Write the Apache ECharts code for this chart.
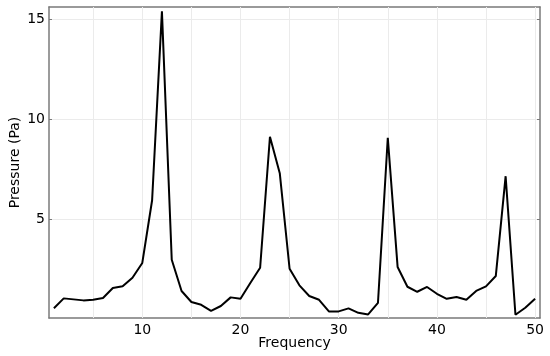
<!DOCTYPE html>
<html>
<head>
<meta charset="utf-8">
<script src="https://cdn.jsdelivr.net/npm/echarts@6/dist/echarts.min.js"></script>
<style>html,body{margin:0;padding:0;background:#fff}#c{width:550px;height:356px}</style>
</head>
<body>
<div id="c"></div>
<script>
var frequency = [1,2,3,4,5,6,7,8,9,10,11,12,13,14,15,16,17,18,19,20,21,22,23,24,25,26,27,28,29,30,31,32,33,34,35,36,37,38,39,40,41,42,43,44,45,46,47,48,49,50];
var pressure = [0.56,1.05,1.0,0.95,0.98,1.07,1.57,1.65,2.08,2.82,5.95,15.38,2.98,1.42,0.87,0.73,0.43,0.67,1.1,1.03,1.82,2.58,9.12,7.3,2.53,1.7,1.17,0.98,0.4,0.4,0.55,0.33,0.25,0.83,9.07,2.62,1.63,1.38,1.62,1.28,1.03,1.12,0.98,1.42,1.65,2.17,7.15,0.23,0.58,1.03];
var xTickLabels = [10,20,30,40,50];
var xGridValues = [5,10,15,20,25,30,35,40,45,50];
var yTickLabels = [5,10,15];

var font = 'DejaVu Sans';
var axisCol = '#7a7a7a';
var chart = echarts.init(document.getElementById('c'), null, {renderer:'canvas'});
var data = frequency.map(function(f,i){return [f, pressure[i]];});
chart.setOption({
  animation:false,
  grid:{left:49, right:10, top:7, bottom:38, show:false, containLabel:false, outerBoundsMode:'none'},
  xAxis:[{
    type:'value', position:'bottom', min:0.5, max:50.5,
    name:'Frequency', nameLocation:'middle', nameGap:18, nameMoveOverlap:false,
    nameTextStyle:{fontFamily:font, fontSize:14, color:'#000'},
    axisLine:{show:true, onZero:false, lineStyle:{color:axisCol, width:1.5}},
    axisTick:{show:true, inside:true, length:3, customValues:xTickLabels, lineStyle:{color:axisCol}},
    axisLabel:{customValues:xTickLabels, margin:5, fontFamily:font, fontSize:14, color:'#000'},
    splitLine:{show:false}
  },{
    type:'value', position:'top', min:0.5, max:50.5,
    axisLine:{show:true, onZero:false, lineStyle:{color:axisCol, width:1.5}},
    axisTick:{show:true, inside:true, length:3, customValues:xTickLabels, lineStyle:{color:axisCol}},
    axisLabel:{show:false},
    splitLine:{show:false}
  }],
  yAxis:[{
    type:'value', position:'left', min:0.07, max:15.6,
    name:'Pressure (Pa)', nameLocation:'middle', nameGap:27, nameMoveOverlap:false,
    nameTextStyle:{fontFamily:font, fontSize:14, color:'#000'},
    axisLine:{show:true, onZero:false, lineStyle:{color:axisCol, width:1.5}},
    axisTick:{show:true, inside:true, length:3, customValues:yTickLabels, lineStyle:{color:axisCol}},
    axisLabel:{customValues:yTickLabels, margin:4, fontFamily:font, fontSize:14, color:'#000'},
    splitLine:{show:true, lineStyle:{color:'#ebebeb', width:1}}
  },{
    type:'value', position:'right', min:0.07, max:15.6,
    axisLine:{show:true, onZero:false, lineStyle:{color:axisCol, width:1.5}},
    axisTick:{show:true, inside:true, length:3, customValues:yTickLabels, lineStyle:{color:axisCol}},
    axisLabel:{show:false},
    splitLine:{show:false}
  }],
  series:[{
    type:'line', data:data, xAxisIndex:0, yAxisIndex:0, z:3,
    showSymbol:false, symbol:'none',
    lineStyle:{color:'#000', width:2},
    markLine:{
      silent:true, symbol:['none','none'], z:1, animation:false,
      label:{show:false},
      lineStyle:{color:'#ebebeb', width:1, type:'solid'},
      emphasis:{disabled:true},
      data:xGridValues.map(function(v){return {xAxis:v};})
    }
  }]
});
</script>
</body>
</html>
